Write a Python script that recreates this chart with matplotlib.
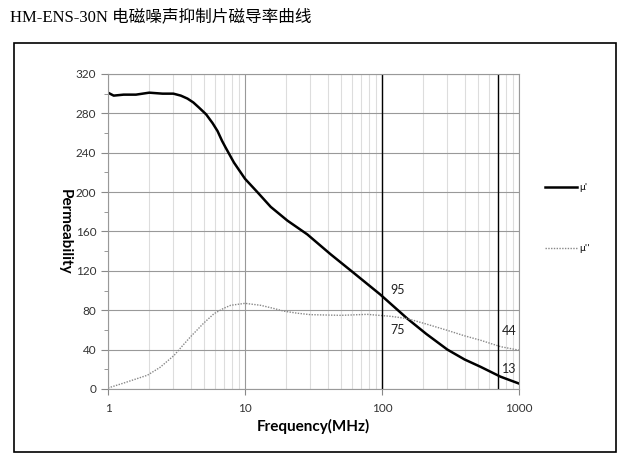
import numpy as np
import matplotlib.pyplot as plt
from matplotlib.patches import Rectangle
from matplotlib.ticker import FixedLocator, NullFormatter

# mu' (real part)
freq_real = [1, 1.1, 1.3, 1.6, 2, 2.5, 3, 3.4, 3.8, 4.2, 4.6, 5.2, 5.8, 6.3, 6.8, 7.2, 8.3, 10, 12.3,
             15.4, 20.4, 28.5, 42, 62, 97, 153, 210, 300, 400, 524, 732, 1000]
mu_real = [301, 298, 299, 299, 301, 300, 300, 298, 295, 291, 286, 279, 270, 262, 252, 245.5, 230, 213.5, 200,
           185, 171, 157, 137, 118, 96, 71.5, 56, 40, 30, 22.5, 12.5, 5.5]

# mu'' (imaginary part)
freq_imag = [1, 1.3, 1.94, 2.4, 3.03, 3.5, 4, 5, 5.94, 7, 7.86, 10, 13, 16, 19.3, 24, 30, 50, 78,
             116, 153, 210, 299, 400, 524, 732, 1000]
mu_imag = [1, 6, 14, 22, 34, 44, 53, 67, 76.5, 82, 85, 87, 85, 82, 79, 77, 75.5, 74.8, 75.8,
           73.8, 71.5, 66, 59.6, 54, 49.5, 43, 39.4]

marker_freqs = [100, 700]
labels = [(100, 95, 101), (100, 75, 60), (700, 44, 59), (700, 13, 20)]

fig = plt.figure(figsize=(6.28, 4.58), dpi=100)

fig.text(0.016, 0.962, 'HM-ENS-30N 电磁噪声抑制片磁导率曲线', fontsize=12,
         family=['Liberation Serif', 'Noto Sans CJK SC'], va='center')
fig.patches.append(Rectangle((14 / 628, 1 - 452 / 458), 602 / 628, 409 / 458,
                             transform=fig.transFigure, fill=False,
                             edgecolor='black', linewidth=1.2))

ax = fig.add_axes([0.172, 0.1507, 0.6545, 0.6878])
ax.set_xscale('log')
ax.set_xlim(1, 1000)
ax.set_ylim(0, 320)

ax.plot(freq_real, mu_real, color='black', linewidth=1.8, label="μ'")
ax.plot(freq_imag, mu_imag, color='#888888', linewidth=1.0, linestyle=(0, (1, 1)), label="μ''")

for f in marker_freqs:
    ax.axvline(f, color='black', linewidth=1.0)

for f, v, ypos in labels:
    ax.text(f * (1.3 if f == 100 else 1.22), ypos, str(v), fontsize=9, family='Lato',
            color='#222222', va='center', ha='center')

ax.set_yticks(np.arange(0, 321, 40))
ax.yaxis.set_minor_locator(FixedLocator(np.arange(20, 320, 40)))
ax.grid(True, which='major', axis='y', color='#999999', linewidth=0.8)
ax.grid(True, which='major', axis='x', color='#999999', linewidth=0.8)
ax.grid(True, which='minor', axis='x', color='#dddddd', linewidth=0.8)
ax.xaxis.set_minor_formatter(NullFormatter())
ax.set_xticks([1, 10, 100, 1000])
ax.set_xticklabels(['1', '10', '100', '1000'])
ax.tick_params(axis='both', which='both', labelsize=8.5, color='#888888', labelcolor='#333333',
               direction='out')
ax.tick_params(axis='x', which='minor', length=0)
ax.tick_params(axis='y', which='major', length=5)
ax.tick_params(axis='y', which='minor', length=3)
ax.tick_params(axis='x', which='major', length=4, pad=6)
for lab in ax.get_xticklabels() + ax.get_yticklabels():
    lab.set_family('Lato')
for s in ax.spines.values():
    s.set_color('#999999')
    s.set_linewidth(0.8)

ax.set_xlabel('Frequency(MHz)', fontsize=11, fontweight='bold', family='Lato', labelpad=4)
ax.set_ylabel('Permeability', fontsize=11, fontweight='bold', family='Lato', rotation=-90)
ax.yaxis.set_label_coords(-0.122, 0.5)

leg = fig.legend(loc='center left', bbox_to_anchor=(0.855, 0.524), frameon=False,
                 fontsize=6.5, handlelength=3.5, labelspacing=5.8, handletextpad=0.3)

fig.savefig('out.png', dpi=100)
